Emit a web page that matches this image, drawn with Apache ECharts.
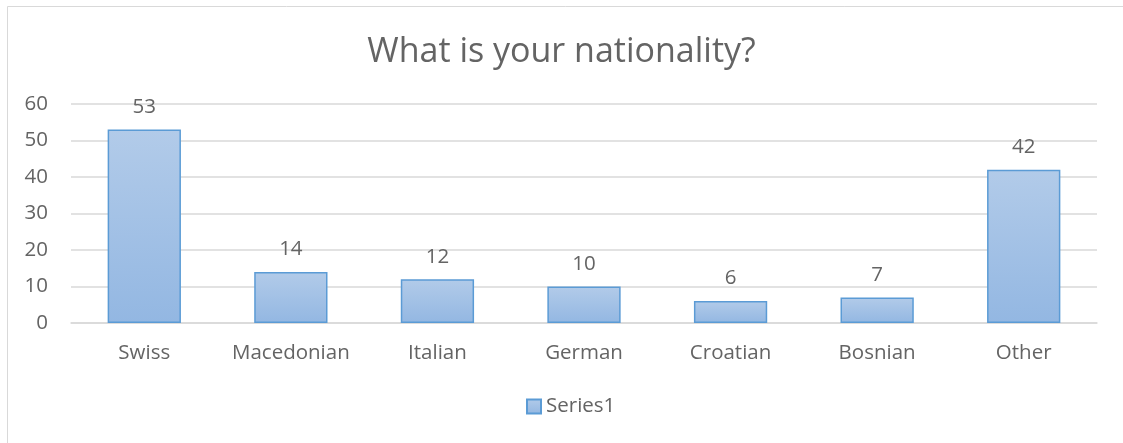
<!DOCTYPE html>
<html>
<head>
<meta charset="utf-8">
<script src="https://cdn.jsdelivr.net/npm/echarts@6/dist/echarts.min.js"></script>
<style>
  html, body { margin: 0; padding: 0; background: #ffffff; }
  #chart { width: 1123px; height: 443px; }
</style>
</head>
<body>
<div id="chart"></div>
<script>
// Survey answers: nationality of respondents
const categories = ['Swiss', 'Macedonian', 'Italian', 'German', 'Croatian', 'Bosnian', 'Other'];
const counts = [53, 14, 12, 10, 6, 7, 42];
const seriesName = 'Series1';
const titleText = 'What is your nationality?';

const textColor = '#646464';
const gridColor = '#d9d9d9';
const fontFamily = '"Open Sans", "Noto Sans", sans-serif';
const labelSize = 20.5;

const barFill = new echarts.graphic.LinearGradient(0, 0, 0, 1, [
  { offset: 0, color: '#b2cbe9' },
  { offset: 1, color: '#93b7e2' }
]);

const chart = echarts.init(document.getElementById('chart'));
chart.setOption({
  animation: false,
  backgroundColor: '#ffffff',
  textStyle: { fontFamily: fontFamily },
  graphic: [{
    type: 'rect',
    shape: { x: 7.5, y: 6.5, width: 1130, height: 450 },
    style: { fill: 'none', stroke: gridColor, lineWidth: 1 },
    silent: true
  }],
  title: {
    text: titleText,
    left: 'center',
    top: 30,
    textStyle: { color: textColor, fontSize: 34, fontWeight: 'normal', fontFamily: fontFamily }
  },
  legend: {
    bottom: 21,
    left: 521,
    icon: 'rect',
    itemWidth: 14,
    itemHeight: 14,
    textStyle: { color: textColor, fontSize: labelSize, fontFamily: fontFamily },
    data: [seriesName]
  },
  grid: { left: 71, right: 26, top: 104, bottom: 120 },
  xAxis: {
    type: 'category',
    data: categories,
    axisLine: { lineStyle: { color: gridColor, width: 1.5 } },
    axisTick: { show: false },
    axisLabel: { color: textColor, fontSize: labelSize, margin: 20, interval: 0 }
  },
  yAxis: {
    type: 'value',
    min: 0,
    max: 60,
    interval: 10,
    axisLine: { show: false },
    axisTick: { show: false },
    splitLine: { lineStyle: { color: gridColor, width: 1.5 } },
    axisLabel: { color: textColor, fontSize: labelSize, margin: 23 }
  },
  series: [{
    name: seriesName,
    type: 'bar',
    data: counts,
    barWidth: '50%',
    itemStyle: { color: barFill, borderColor: '#5b9bd5', borderWidth: 1.5 },
    label: {
      show: true,
      position: 'top',
      distance: 12,
      color: textColor,
      fontSize: labelSize
    }
  }]
});
</script>
</body>
</html>
